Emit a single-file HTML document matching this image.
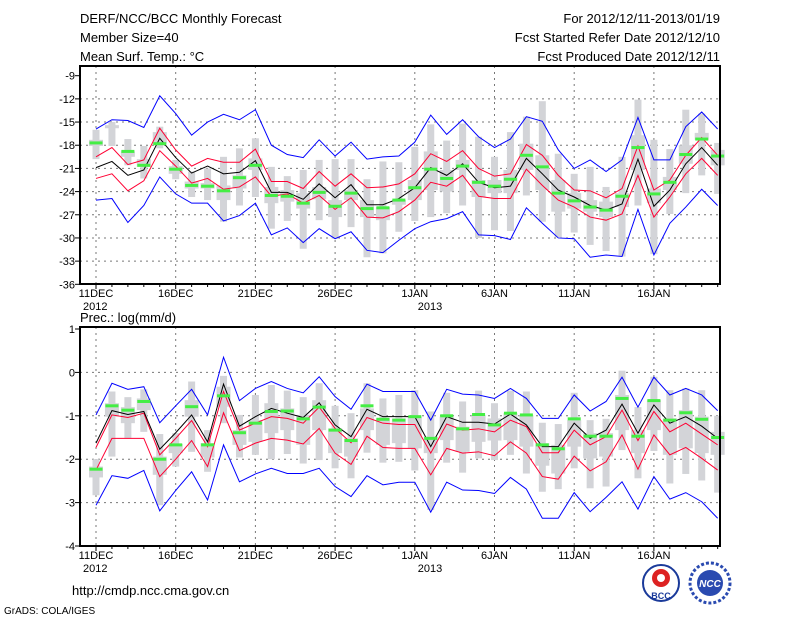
<!DOCTYPE html>
<html><head><meta charset="utf-8"><style>
body{margin:0;background:#fff}
svg{display:block;font-family:"Liberation Sans",sans-serif}
</style></head><body>
<svg id="c" width="800" height="618" viewBox="0 0 800 618" xmlns="http://www.w3.org/2000/svg">
<rect width="800" height="618" fill="#fff"/>
<g font-size="13" fill="#000">
<text x="80" y="23">DERF/NCC/BCC Monthly Forecast</text>
<text x="80" y="42">Member Size=40</text>
<text x="80" y="61">Mean Surf. Temp.: °C</text>
<text x="720" y="23" text-anchor="end">For 2012/12/11-2013/01/19</text>
<text x="720" y="42" text-anchor="end">Fcst Started Refer Date 2012/12/10</text>
<text x="720" y="61" text-anchor="end">Fcst Produced Date 2012/12/11</text>
<text x="80" y="322">Prec.: log(mm/d)</text>
<text x="72" y="595">http://cmdp.ncc.cma.gov.cn</text>
<text x="4" y="614" font-size="10">GrADS: COLA/IGES</text>
</g>
<g>
<circle cx="661" cy="583" r="18" fill="#fff" stroke="#1a3a9a" stroke-width="2"/>
<circle cx="661" cy="578" r="9" fill="#d22" />
<circle cx="661" cy="578" r="4" fill="#fff"/>
<text x="661" y="599" font-size="9" font-weight="bold" fill="#1a3a9a" text-anchor="middle">BCC</text>
</g>
<g>
<circle cx="710" cy="583" r="20" fill="#fff" stroke="#2a4ab0" stroke-width="3" stroke-dasharray="3 2"/>
<circle cx="710" cy="583" r="13" fill="#2a4ab0"/>
<text x="710" y="587" font-size="10" font-weight="bold" font-style="italic" fill="#fff" text-anchor="middle">NCC</text>
</g>
</svg>
<script>
const days = ["11DEC","16DEC","21DEC","26DEC","1JAN","6JAN","11JAN","16JAN"];
const tTicks = [-9,-12,-15,-18,-21,-24,-27,-30,-33,-36];
const pTicks = [1,0,-1,-2,-3,-4];
// Temperature
const tBlueHi=[-15.9,-14.7,-14.8,-15.7,-11.6,-13.9,-16.7,-15.0,-14.0,-14.7,-13.4,-18.0,-19.2,-19.6,-17.3,-19.4,-17.6,-19.8,-19.5,-19.4,-17.6,-14.1,-16.6,-14.7,-16.9,-18.3,-17.2,-14.3,-14.9,-18.6,-21.0,-19.9,-21.4,-19.9,-14.4,-19.9,-19.9,-15.6,-13.7,-15.9];
const tRedHi=[-19.5,-18.3,-20.5,-19.9,-15.8,-18.6,-20.7,-19.7,-20.2,-20.2,-18.5,-22.7,-22.7,-23.6,-21.4,-23.3,-21.7,-23.5,-23.4,-23.0,-21.7,-19.1,-20.1,-18.7,-21.0,-22.0,-21.7,-17.9,-19.3,-21.9,-23.8,-23.9,-24.8,-23.6,-18.1,-23.8,-22.5,-19.3,-17.0,-19.3];
const tMean=[-20.9,-20.1,-21.9,-21.2,-17.1,-19.6,-21.6,-20.7,-21.7,-21.5,-20.0,-24.1,-24.1,-25.0,-23.0,-24.8,-23.1,-25.7,-25.7,-24.9,-23.5,-20.9,-21.9,-20.4,-22.8,-23.5,-23.3,-19.7,-21.7,-23.8,-24.7,-25.8,-26.4,-25.6,-19.8,-25.9,-23.8,-20.4,-18.3,-20.6];
const tRedLo=[-22.3,-21.7,-23.9,-22.6,-18.7,-20.7,-22.9,-22.3,-23.7,-23.4,-22.1,-24.6,-24.3,-25.5,-24.5,-26.3,-24.8,-27.3,-27.4,-26.6,-25.1,-22.8,-23.3,-21.9,-24.6,-24.9,-24.9,-21.1,-23.2,-25.1,-26.0,-27.3,-27.7,-26.9,-21.9,-27.3,-24.7,-21.7,-19.7,-21.9];
const tBlueLo=[-25.1,-24.9,-28.0,-25.8,-22.1,-24.3,-25.5,-25.5,-27.8,-27.1,-25.5,-29.6,-28.7,-30.6,-28.8,-30.1,-29.2,-31.6,-31.9,-30.3,-28.8,-27.9,-27.5,-26.6,-29.6,-29.7,-30.2,-26.1,-28.1,-30.0,-30.1,-32.5,-32.2,-32.4,-26.3,-32.2,-28.1,-26.0,-23.7,-25.8];
const tObs=[-17.7,null,-18.8,-20.6,-17.8,-21.1,-23.2,-23.3,-23.9,-22.2,-20.6,-24.5,-24.6,-25.5,-24.1,-25.9,-24.2,-26.2,-26.1,-25.1,-23.5,-21.1,-22.3,-20.7,-22.8,-23.3,-22.4,-19.3,-20.8,-24.2,-25.2,-26.0,-26.4,-24.6,-18.3,-24.3,-22.8,-19.2,-17.2,-19.4];
const tWhHi=[-16.0,-15.0,-17.2,-18.1,-15.6,-19.9,-21.4,-21.0,-19.5,-18.4,-17.1,-20.8,-22.0,-21.2,-19.9,-19.8,-19.8,-22.4,-20.1,-20.2,-18.2,-15.3,-17.4,-15.2,-16.9,-19.5,-16.3,-14.3,-12.3,-19.1,-21.7,-20.8,-23.4,-19.5,-12.1,-17.3,-18.5,-13.4,-13.9,-17.7];
const tWhLo=[-19.8,-18.1,-20.6,-22.3,-18.4,-22.4,-24.7,-25.1,-27.9,-25.8,-24.7,-28.8,-27.8,-31.4,-27.7,-30.1,-28.6,-32.5,-32.0,-29.2,-27.8,-27.3,-26.8,-25.8,-30.0,-29.0,-29.1,-24.5,-27.9,-29.9,-29.3,-30.9,-31.7,-32.4,-25.8,-32.1,-26.9,-24.2,-21.9,-24.3];
const tBoxHi=[-17.3,-15.4,-18.8,-19.8,-16.3,-20.7,-22.7,-22.9,-23.2,-21.9,-19.7,-23.4,-23.8,-24.2,-23.4,-25.1,-23.8,-25.1,-26.0,-25.1,-22.5,-18.8,-21.2,-19.9,-22.5,-22.5,-21.2,-17.8,-19.3,-22.5,-24.2,-25.1,-25.3,-24.2,-16.7,-23.6,-22.1,-18.0,-16.4,-18.6];
const tBoxLo=[-18.1,-15.8,-19.5,-20.8,-17.8,-21.7,-23.6,-23.6,-25.1,-23.6,-21.2,-25.5,-25.3,-26.2,-25.0,-27.3,-25.1,-27.3,-27.7,-25.7,-25.1,-23.8,-24.0,-21.2,-24.7,-24.2,-24.2,-21.2,-23.8,-26.6,-26.2,-26.6,-27.3,-26.0,-21.2,-25.5,-23.8,-20.4,-17.3,-20.6];
// Precipitation
const pBlueHi=[-0.98,-0.25,-0.39,-0.33,-1.16,-0.77,-0.39,-0.98,0.35,-0.65,-0.37,-0.21,-0.37,-0.47,-0.10,-0.56,-0.85,-0.27,-0.44,-0.44,-0.44,-1.10,-0.39,-0.50,-0.52,-0.60,-0.37,-0.60,-1.06,-1.06,-0.52,-0.89,-0.67,-0.11,-0.80,-0.11,-0.52,-0.37,-0.52,-0.88];
const pRedHi=[-1.73,-0.98,-1.04,-0.94,-1.90,-1.52,-1.11,-1.71,-0.44,-1.33,-1.17,-1.02,-1.06,-1.17,-0.80,-1.29,-1.62,-1.04,-1.17,-1.20,-1.20,-1.86,-1.19,-1.33,-1.30,-1.37,-1.10,-1.25,-1.85,-1.85,-1.33,-1.67,-1.48,-0.87,-1.57,-0.90,-1.37,-1.17,-1.42,-1.67];
const pMean=[-1.63,-0.88,-0.97,-0.90,-1.77,-1.39,-0.98,-1.60,-0.27,-1.24,-1.02,-0.83,-0.94,-1.04,-0.70,-1.21,-1.48,-0.85,-1.02,-1.02,-1.02,-1.71,-1.02,-1.15,-1.15,-1.19,-0.96,-1.21,-1.71,-1.71,-1.17,-1.52,-1.33,-0.73,-1.40,-0.75,-1.17,-1.02,-1.24,-1.52];
const pRedLo=[-2.25,-1.52,-1.52,-1.52,-2.40,-2.00,-1.57,-2.17,-0.93,-1.80,-1.63,-1.52,-1.56,-1.65,-1.29,-1.86,-2.12,-1.47,-1.73,-1.75,-1.75,-2.36,-1.75,-1.86,-1.83,-1.92,-1.60,-1.86,-2.40,-2.46,-1.93,-2.27,-2.06,-1.44,-2.23,-1.44,-1.90,-1.73,-1.98,-2.25];
const pBlueLo=[-3.06,-2.38,-2.44,-2.26,-3.19,-2.72,-2.29,-2.94,-1.67,-2.52,-2.34,-2.21,-2.33,-2.33,-2.21,-2.63,-2.86,-2.38,-2.59,-2.53,-2.53,-3.22,-2.53,-2.71,-2.72,-2.79,-2.42,-2.69,-3.36,-3.36,-2.77,-3.21,-2.88,-2.52,-3.15,-2.40,-2.92,-2.77,-2.98,-3.36];
const pObs=[-2.23,-0.77,-0.87,-0.67,-2.00,-1.67,-0.79,-1.67,-0.54,-1.39,-1.17,-0.90,-0.89,-1.07,-0.80,-1.33,-1.57,-0.77,-1.08,-1.10,-1.02,-1.52,-1.00,-1.30,-0.97,-1.21,-0.94,-0.98,-1.67,-1.76,-1.07,-1.47,-1.47,-0.60,-1.47,-0.65,-1.10,-0.93,-1.08,-1.50];
const pWhHi=[-2.00,-0.44,-0.57,-0.39,-1.42,-1.40,-0.21,-1.33,-0.08,-0.98,-0.52,-0.29,-0.42,-0.57,-0.25,-0.77,-0.94,-0.25,-0.60,-0.52,-0.41,-0.90,-0.47,-0.67,-0.42,-0.71,-0.42,-0.44,-1.16,-1.19,-0.47,-1.10,-1.07,0.04,-0.80,-0.10,-0.41,-0.37,-0.41,-1.00];
const pWhLo=[-2.83,-1.94,-1.52,-1.37,-3.06,-2.17,-1.83,-2.29,-1.17,-1.96,-1.90,-2.00,-1.88,-2.10,-2.02,-2.21,-2.44,-1.85,-2.08,-2.06,-2.26,-3.17,-2.08,-2.31,-1.98,-2.02,-1.90,-2.33,-2.75,-2.69,-2.21,-2.67,-2.63,-1.79,-2.44,-1.81,-2.56,-2.34,-2.49,-2.77];
const pBoxHi=[-2.17,-0.71,-0.80,-0.60,-1.94,-1.65,-0.64,-1.63,-0.33,-1.33,-1.10,-0.71,-0.83,-0.98,-0.64,-1.29,-1.52,-0.83,-1.06,-1.06,-1.02,-1.48,-1.02,-1.25,-0.98,-1.06,-0.94,-0.98,-1.63,-1.67,-1.10,-1.40,-1.40,-0.52,-1.33,-0.64,-1.06,-0.87,-1.02,-1.37];
const pBoxLo=[-2.42,-1.02,-1.17,-0.87,-2.36,-1.86,-1.02,-1.96,-0.79,-1.67,-1.60,-1.40,-1.33,-1.67,-1.33,-1.86,-1.94,-1.33,-1.67,-1.63,-1.75,-1.86,-1.56,-1.83,-1.60,-1.57,-1.56,-1.71,-2.15,-2.33,-1.71,-1.98,-1.94,-1.33,-1.86,-1.33,-1.90,-1.75,-1.86,-1.90];

const svg=document.getElementById('c');
const NS='http://www.w3.org/2000/svg';
const X0=80,X1=720,DX0=96,DSTEP=15.94;
function xs(i){return DX0+i*DSTEP;}
function mk(tag,attrs,parent){const e=document.createElementNS(NS,tag);for(const k in attrs)e.setAttribute(k,attrs[k]);(parent||svg).appendChild(e);return e;}

function panel(name,top,bottom,vRefTop,yRefTop,pxPerUnit,ticks,S){
  const ys=v=>yRefTop+(vRefTop-v)*pxPerUnit;
  const g=mk('g',{});
  
  
  // grid
  ticks.forEach((t,k)=>{if(k>0&&k<ticks.length-1){const l=mk('line',{x1:X0,x2:X1,y1:ys(t),y2:ys(t),stroke:'#777','stroke-dasharray':'2 4','stroke-width':1},g);
    }});
  days.forEach((d,k)=>{const x=xs(k*5);const l=mk('line',{x1:x,x2:x,y1:top,y2:bottom,stroke:'#777','stroke-dasharray':'2 4','stroke-width':1},g);
    });
  // bars
  for(let i=0;i<40;i++){
    const x=xs(i);
    const w=mk('rect',{x:x-3.5,y:ys(S.wh[i]),width:7,height:ys(S.wl[i])-ys(S.wh[i]),fill:'#d3d4d8'},g);
    
    const b=mk('rect',{x:x-7,y:ys(S.bh[i]),width:14,height:ys(S.bl[i])-ys(S.bh[i]),fill:'#d3d4d8'},g);
    
  }
  const lines=[[S.bhi,'#0000ff','blue-upper'],[S.rhi,'#ff0033','red-upper'],[S.mean,'#000','ensemble-mean'],[S.rlo,'#ff0033','red-lower'],[S.blo,'#0000ff','blue-lower']];
  lines.forEach(([arr,col,nm])=>{
    const p=mk('polyline',{points:arr.map((v,i)=>xs(i)+','+ys(v)).join(' '),fill:'none',stroke:col,'stroke-width':1},g);
    
  });
  S.obs.forEach((v,i)=>{if(v===null)return;
    const r=mk('rect',{x:xs(i)-6.5,y:ys(v)-1.5,width:13,height:3,fill:'#44ee44'},g);
    });
  // frame
  const f=mk('rect',{x:X0,y:top,width:X1-X0,height:bottom-top,fill:'none',stroke:'#000','stroke-width':2},g);
  
  ticks.forEach(t=>{
    mk('line',{x1:X0-5,x2:X0,y1:ys(t),y2:ys(t),stroke:'#000','stroke-width':1},g);
    const tx=mk('text',{x:X0-5,y:ys(t)+4,'text-anchor':'end','font-size':11},g);
    tx.textContent=String(t).replace('-','−').replace('−','-');
    
  });
  for(let i=0;i<40;i++){mk('line',{x1:xs(i),x2:xs(i),y1:bottom,y2:bottom+(i%5===0?5:3),stroke:'#000','stroke-width':1},g);}
  days.forEach((d,k)=>{
    const tx=mk('text',{x:xs(k*5),y:bottom+13,'text-anchor':'middle','font-size':11},g);
    tx.textContent=d;
    
  });
  [[0,'2012'],[21,'2013']].forEach(([i,yr])=>{
    const tx=mk('text',{x:xs(i)-13,y:bottom+26,'font-size':11},g);
    tx.textContent=yr;
    
  });
}
panel('temperature',66,284,-9,75.7,7.726,tTicks,{wh:tWhHi,wl:tWhLo,bh:tBoxHi,bl:tBoxLo,bhi:tBlueHi,rhi:tRedHi,mean:tMean,rlo:tRedLo,blo:tBlueLo,obs:tObs});
panel('precipitation',327,546,1,329,43.4,pTicks,{wh:pWhHi,wl:pWhLo,bh:pBoxHi,bl:pBoxLo,bhi:pBlueHi,rhi:pRedHi,mean:pMean,rlo:pRedLo,blo:pBlueLo,obs:pObs});
</script>
</body></html>
